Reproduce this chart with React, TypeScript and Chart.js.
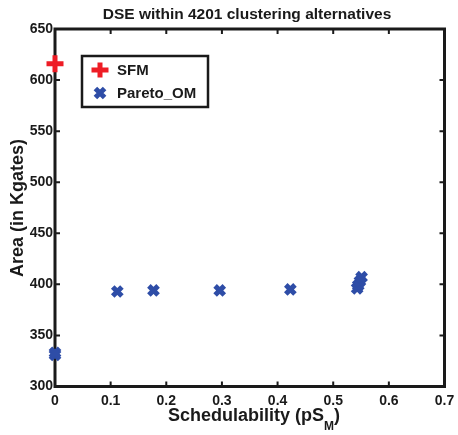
import React, { useEffect, useRef } from 'react';
import { Chart, registerables } from 'chart.js';

Chart.register(...registerables);

const chartTitle = 'DSE within 4201 clustering alternatives';
const xAxisTitleMain = 'Schedulability (pS';
const xAxisTitleSub = 'M';
const xAxisTitleEnd = ')';
const yAxisTitle = 'Area (in Kgates)';
const seriesNames = ['SFM', 'Pareto_OM'];
const sfmX = [0];
const sfmY = [616];
const paretoX = [0, 0, 0.112, 0.177, 0.296, 0.423, 0.543, 0.545, 0.548, 0.551];
const paretoY = [331, 333, 393, 394, 394, 395, 396, 399, 403, 407];
const xRange = [0, 0.7];
const yRange = [300, 650];

const RED = '#EE1C25';
const BLUE = '#2E4DA7';
const INK = '#1a1a1a';
const FONT = "Arial, 'Liberation Sans', Helvetica, sans-serif";

const framePlugin = {
  id: 'frame',
  beforeDatasetsDraw(chart: any) {
    const { ctx, chartArea: a, scales } = chart;
    ctx.save();
    ctx.strokeStyle = INK;
    ctx.lineWidth = 3;
    ctx.strokeRect(a.left, a.top, a.right - a.left, a.bottom - a.top);
    ctx.lineWidth = 2;
    const len = 5;
    ctx.beginPath();
    scales.x.ticks.forEach((t: any) => {
      const px = scales.x.getPixelForValue(t.value);
      ctx.moveTo(px, a.bottom);
      ctx.lineTo(px, a.bottom - len);
      ctx.moveTo(px, a.top);
      ctx.lineTo(px, a.top + len);
    });
    scales.y.ticks.forEach((t: any) => {
      const py = scales.y.getPixelForValue(t.value);
      ctx.moveTo(a.left, py);
      ctx.lineTo(a.left + len, py);
      ctx.moveTo(a.right, py);
      ctx.lineTo(a.right - len, py);
    });
    ctx.stroke();
    ctx.restore();
  },
  afterDraw(chart: any) {
    const { ctx, chartArea: a } = chart;
    ctx.save();
    ctx.fillStyle = INK;
    // Title
    ctx.font = `bold 15.5px ${FONT}`;
    ctx.textAlign = 'center';
    ctx.textBaseline = 'alphabetic';
    ctx.fillText(chartTitle, 247, 19);
    // Y title
    ctx.save();
    ctx.font = `bold 18px ${FONT}`;
    ctx.translate(23, 208);
    ctx.rotate(-Math.PI / 2);
    ctx.textAlign = 'center';
    ctx.textBaseline = 'alphabetic';
    ctx.fillText(yAxisTitle, 0, 0);
    ctx.restore();
    // X title with subscript
    const mainFont = `bold 18px ${FONT}`;
    const subFont = `bold 12px ${FONT}`;
    ctx.font = mainFont;
    const w1 = ctx.measureText(xAxisTitleMain).width;
    const w3 = ctx.measureText(xAxisTitleEnd).width;
    ctx.font = subFont;
    const w2 = ctx.measureText(xAxisTitleSub).width;
    const total = w1 + w2 + w3;
    let x = 254 - total / 2;
    const y = 421;
    ctx.textAlign = 'left';
    ctx.textBaseline = 'alphabetic';
    ctx.font = mainFont;
    ctx.fillText(xAxisTitleMain, x, y);
    x += w1;
    ctx.font = subFont;
    ctx.fillText(xAxisTitleSub, x, y + 9);
    x += w2;
    ctx.font = mainFont;
    ctx.fillText(xAxisTitleEnd, x, y);

    // Legend
    const lx = a.left + 27;
    const ly = a.top + 27;
    const lw = 126;
    const lh = 51;
    ctx.fillStyle = '#ffffff';
    ctx.fillRect(lx, ly, lw, lh);
    ctx.strokeStyle = INK;
    ctx.lineWidth = 2.5;
    ctx.strokeRect(lx, ly, lw, lh);
    const mx = lx + 18;
    const my1 = ly + 14;
    const my2 = ly + 37;
    // SFM marker (plus)
    ctx.strokeStyle = RED;
    ctx.lineWidth = 5;
    ctx.beginPath();
    ctx.moveTo(mx - 8.5, my1);
    ctx.lineTo(mx + 8.5, my1);
    ctx.moveTo(mx, my1 - 7.5);
    ctx.lineTo(mx, my1 + 7.5);
    ctx.stroke();
    // Pareto marker (x)
    ctx.strokeStyle = BLUE;
    ctx.lineWidth = 5;
    const d = 4.6;
    ctx.beginPath();
    ctx.moveTo(mx - d, my2 - d);
    ctx.lineTo(mx + d, my2 + d);
    ctx.moveTo(mx - d, my2 + d);
    ctx.lineTo(mx + d, my2 - d);
    ctx.stroke();
    ctx.fillStyle = INK;
    ctx.font = `bold 15px ${FONT}`;
    ctx.textAlign = 'left';
    ctx.textBaseline = 'middle';
    ctx.fillText(seriesNames[0], lx + 35, my1 + 1);
    ctx.fillText(seriesNames[1], lx + 35, my2 + 1);
    ctx.restore();
  },
};

export default function App() {
  const ref = useRef<HTMLCanvasElement | null>(null);
  useEffect(() => {
    if (!ref.current) return;
    const chart = new Chart(ref.current, {
      type: 'scatter',
      data: {
        datasets: [
          {
            label: seriesNames[0],
            data: sfmX.map((x, i) => ({ x, y: sfmY[i] })),
            pointStyle: 'cross',
            pointRadius: 8.5,
            pointBorderWidth: 5,
            borderColor: RED,
            backgroundColor: RED,
            clip: false as any,
          },
          {
            label: seriesNames[1],
            data: paretoX.map((x, i) => ({ x, y: paretoY[i] })),
            pointStyle: 'crossRot',
            pointRadius: 6.5,
            pointBorderWidth: 5,
            borderColor: BLUE,
            backgroundColor: BLUE,
            clip: false as any,
          },
        ],
      },
      options: {
        animation: false,
        responsive: false,
        maintainAspectRatio: false,
        layout: { padding: { top: 29, right: 8.5, left: 0, bottom: 0 } },
        plugins: {
          legend: { display: false },
          title: { display: false },
          tooltip: { enabled: false },
        },
        scales: {
          x: {
            type: 'linear',
            min: xRange[0],
            max: xRange[1],
            grid: { display: false, drawTicks: false },
            border: { display: false },
            ticks: {
              stepSize: 0.1,
              padding: 6,
              color: INK,
              font: { family: FONT, size: 14, weight: 'bold' },
              callback: (v: any) => (Number(v) === 0 ? '0' : Number(v).toFixed(1)),
            },
            afterFit: (s: any) => {
              s.height = 48.5;
              s.paddingLeft = 0;
              s.paddingRight = 0;
            },
          },
          y: {
            type: 'linear',
            min: yRange[0],
            max: yRange[1],
            grid: { display: false, drawTicks: false },
            border: { display: false },
            ticks: {
              stepSize: 50,
              padding: 2,
              color: INK,
              font: { family: FONT, size: 14, weight: 'bold' },
            },
            afterFit: (s: any) => {
              s.width = 55;
              s.paddingTop = 0;
              s.paddingBottom = 0;
            },
          },
        },
      },
      plugins: [framePlugin],
    });
    return () => chart.destroy();
  }, []);
  return (
    <div style={{ position: 'fixed', left: 0, top: 0, width: 458, height: 435, background: '#fff' }}>
      <canvas ref={ref} width={458} height={435} style={{ width: 458, height: 435 }} />
    </div>
  );
}
